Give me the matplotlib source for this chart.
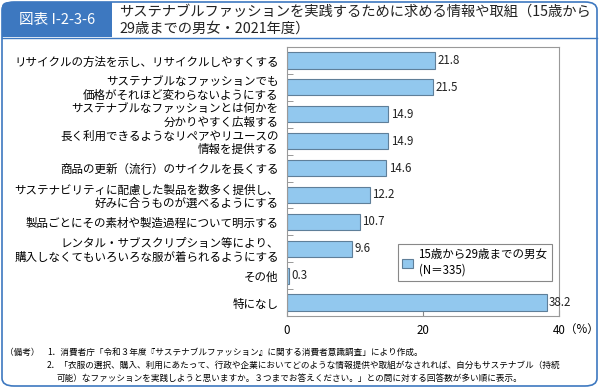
import matplotlib
matplotlib.use("Agg")
import matplotlib.pyplot as plt
from matplotlib.patches import FancyBboxPatch, Rectangle
import numpy as np

plt.rcParams['font.family'] = ['Noto Sans CJK JP', 'DejaVu Sans']

# data
categories = [
    "リサイクルの方法を示し、リサイクルしやすくする",
    "サステナブルなファッションでも\n価格がそれほど変わらないようにする",
    "サステナブルなファッションとは何かを\n分かりやすく広報する",
    "長く利用できるようなリペアやリユースの\n情報を提供する",
    "商品の更新（流行）のサイクルを長くする",
    "サステナビリティに配慮した製品を数多く提供し、\n好みに合うものが選べるようにする",
    "製品ごとにその素材や製造過程について明示する",
    "レンタル・サブスクリプション等により、\n購入しなくてもいろいろな服が着られるようにする",
    "その他",
    "特になし",
]
values = [21.8, 21.5, 14.9, 14.9, 14.6, 12.2, 10.7, 9.6, 0.3, 38.2]
series_label = "15歳から29歳までの男女\n(N＝335)"
x_ticks = [0, 20, 40]

title_tag = "図表 I-2-3-6"
title_text = "サステナブルファッションを実践するために求める情報や取組（15歳から\n29歳までの男女・2021年度）"
notes = [
    "（備考）",
    "1．消費者庁「令和３年度『サステナブルファッション』に関する消費者意識調査」により作成。",
    "2．「衣服の選択、購入、利用にあたって、行政や企業においてどのような情報提供や取組がなされれば、自分もサステナブル（持続",
    "可能）なファッションを実践しようと思いますか。３つまでお答えください。」との問に対する回答数が多い順に表示。",
]

W, H = 600, 389
BLUE = "#3d78c0"

fig = plt.figure(figsize=(W / 100, H / 100), dpi=100)

def fx(px):
    return px / W

def fy(py):
    return 1 - py / H

# outer frame
frame = FancyBboxPatch((fx(2), fy(386)), fx(595), 384 / H,
                       boxstyle="round,pad=0,rounding_size=0.02",
                       transform=fig.transFigure, facecolor="none",
                       edgecolor=BLUE, linewidth=1.2, zorder=5)
fig.add_artist(frame)
# header tag
tag = FancyBboxPatch((fx(2), fy(37)), fx(110), 35 / H,
                     boxstyle="round,pad=0,rounding_size=0.012",
                     transform=fig.transFigure, facecolor=BLUE,
                     edgecolor=BLUE, linewidth=0, zorder=1)
fig.add_artist(tag)
fig.add_artist(Rectangle((fx(2), fy(37)), fx(110), 18 / H, transform=fig.transFigure,
                         facecolor=BLUE, edgecolor="none", zorder=1))
fig.add_artist(Rectangle((fx(50), fy(37)), fx(62), 35 / H, transform=fig.transFigure,
                         facecolor=BLUE, edgecolor="none", zorder=1))
fig.add_artist(plt.Line2D([fx(2), fx(597)], [fy(37.5), fy(37.5)], transform=fig.transFigure,
                          color=BLUE, linewidth=1.0))
fig.text(fx(57), fy(20), title_tag, color="white", fontsize=10.5,
         ha="center", va="center", zorder=3)
fig.text(fx(119), fy(20), title_text, color="#222222", fontsize=10.3,
         ha="left", va="center", linespacing=1.25)

# chart
ax = fig.add_axes([fx(287), fy(316), fx(559 - 287), (316 - 47) / H])
y = np.arange(len(categories))
ax.barh(y, values, height=0.6, color="#92c8ee", edgecolor="#5f7f99", linewidth=0.8,
        label=series_label, zorder=2)
for yi, v in zip(y, values):
    ax.text(v + 0.35, yi, f"{v:.1f}", va="center", ha="left", fontsize=8.3, color="#222222")

ax.set_xlim(0, 40)
ax.set_ylim(len(categories) - 0.5, -0.5)
ax.set_yticks(y)
ax.set_yticklabels(categories, fontsize=8.3, linespacing=1.05)
ax.tick_params(axis="y", length=0, pad=6)
ax.set_yticks(np.arange(0.5, len(categories) - 1, 1), minor=True)
ax.tick_params(axis="y", which="minor", direction="in", length=4, color="#888888")
ax.set_xticks(x_ticks)
ax.set_xticklabels([str(t) for t in x_ticks], fontsize=8.3)
ax.tick_params(axis="x", direction="in", length=4, color="#888888", pad=6)
for s in ax.spines.values():
    s.set_color("#999999")
    s.set_linewidth(0.8)
# unit next to the last tick label
fig.text(fx(565), fy(329), "（%）", fontsize=8.3, ha="left", va="center")

leg = ax.legend(loc="upper left", bbox_to_anchor=(0.386, 0.29), fontsize=8.3,
                fancybox=False, edgecolor="#888888", handlelength=0.9, handleheight=0.9,
                borderpad=0.4, handletextpad=0.5, framealpha=1)
leg.get_frame().set_linewidth(0.8)

# notes
fig.text(fx(5), fy(352), notes[0], fontsize=6.2, ha="left", va="center")
fig.text(fx(47), fy(352), notes[1], fontsize=6.2, ha="left", va="center")
fig.text(fx(47), fy(365), notes[2], fontsize=6.2, ha="left", va="center")
fig.text(fx(57), fy(378), notes[3], fontsize=6.2, ha="left", va="center")

fig.savefig("out.png", dpi=100)
